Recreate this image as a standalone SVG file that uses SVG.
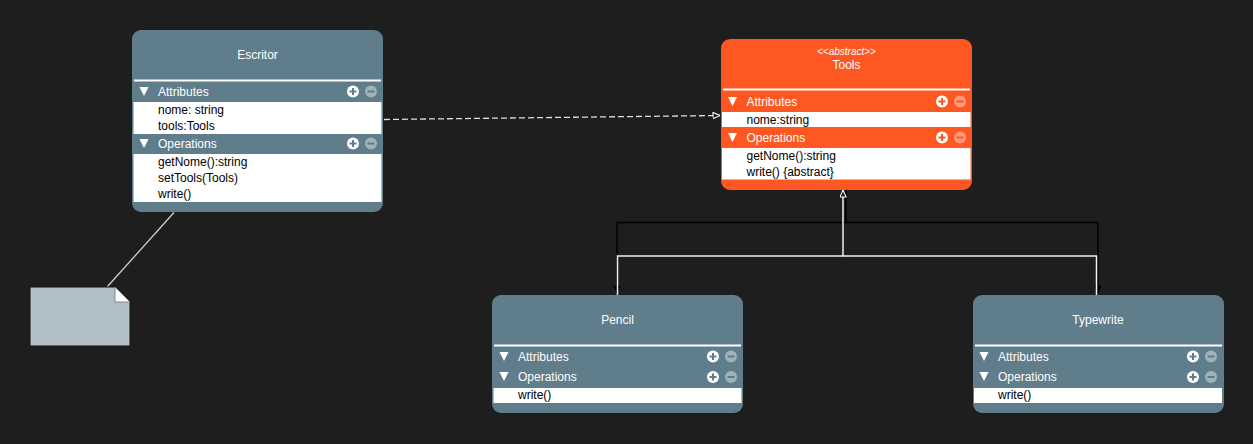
<svg xmlns="http://www.w3.org/2000/svg" width="1253" height="444" viewBox="0 0 1253 444">
<defs>
<style>
text{font-family:"Liberation Sans",Arial,sans-serif;font-size:12px}
.box{fill:#607d8b}
.abs{fill:#ff5722}
.ttl{fill:#ffffff;text-anchor:middle}
.hdr{fill:#ffffff}
.itm{fill:#000000}
.row{fill:#ffffff}
.sep{stroke:#ffffff;stroke-width:2}
.tri{fill:#ffffff}
.plus{fill:#ffffff}
.minus{fill:#ffffff;fill-opacity:0.4}
.pb{stroke-width:2;fill:none}
.wl{stroke:#f0f0f0;stroke-width:1.5;fill:none}
.bl{stroke:#000000;stroke-width:1.5;fill:none}
</style>
<marker id="hollow" viewBox="0 0 10 10" refX="10" refY="5" markerWidth="8" markerHeight="7" markerUnits="userSpaceOnUse" orient="auto">
<path d="M0,0.5 L10,5 L0,9.5 Z" fill="#1e1e1e" stroke="#ffffff" stroke-width="1.5"/>
</marker>
<marker id="blk" viewBox="0 0 10 10" refX="10" refY="5" markerWidth="7" markerHeight="7" markerUnits="userSpaceOnUse" orient="auto">
<path d="M0,0 L10,5 L0,10 Z" fill="#000000"/>
</marker>
<g id="icons-b">
<circle cx="0" cy="0" r="6" class="plus"/>
<path d="M-3.5,0 H3.5 M0,-3.5 V3.5" stroke="#607d8b" class="pb"/>
<circle cx="18" cy="0" r="6" class="minus"/>
<path d="M14.5,0 H21.5" stroke="#607d8b" class="pb"/>
</g>
<g id="icons-o">
<circle cx="0" cy="0" r="6" class="plus"/>
<path d="M-3.5,0 H3.5 M0,-3.5 V3.5" stroke="#ff5722" class="pb"/>
<circle cx="18" cy="0" r="6" class="minus"/>
<path d="M14.5,0 H21.5" stroke="#ff5722" class="pb"/>
</g>
</defs>
<rect x="0" y="0" width="1253" height="444" fill="#1e1e1e"/>

<g id="connectors">
<path d="M384,119.5 L720,115.5" stroke="#e0e0e0" stroke-width="1.3" stroke-dasharray="6 3" fill="none" marker-end="url(#hollow)"/>
<path d="M107.5,286.5 L174,212.5" stroke="#d0d0d0" stroke-width="1.3" fill="none"/>
<path d="M846,190 V222.5 H617 V293" class="bl" marker-end="url(#blk)"/>
<path d="M846,222.5 H1098 V293" class="bl" marker-end="url(#blk)"/>
<path d="M617.5,295 V256 H843 V190" class="wl" marker-end="url(#hollow)"/>
<path d="M1096.5,295 V256 H843" class="wl"/>
</g>

<g id="escritor">
<rect x="132" y="30" width="251" height="182" rx="9" class="box"/>
<text x="257.5" y="59" class="ttl">Escritor</text>
<line x1="134" y1="80.5" x2="381" y2="80.5" class="sep"/>
<polygon points="139.5,87 148.5,87 144,96" class="tri"/>
<text x="158" y="96" class="hdr">Attributes</text>
<use href="#icons-b" x="353" y="91.5"/>
<rect x="133.5" y="102" width="248" height="32" class="row"/>
<text x="158" y="114" class="itm">nome: string</text>
<text x="158" y="130" class="itm">tools:Tools</text>
<polygon points="139.5,139 148.5,139 144,148" class="tri"/>
<text x="158" y="148" class="hdr">Operations</text>
<use href="#icons-b" x="353" y="143.5"/>
<rect x="133.5" y="154" width="248" height="48" class="row"/>
<text x="158" y="166" class="itm">getNome():string</text>
<text x="158" y="182" class="itm">setTools(Tools)</text>
<text x="158" y="198" class="itm">write()</text>
</g>

<g id="tools">
<rect x="721" y="39" width="251" height="151" rx="9" class="abs"/>
<text x="846.5" y="54.5" class="ttl" style="font-size:10px;font-style:italic">&lt;&lt;abstract&gt;&gt;</text>
<text x="846.5" y="69" class="ttl">Tools</text>
<line x1="723" y1="89.5" x2="970" y2="89.5" class="sep"/>
<polygon points="728,97 737,97 732.5,106" class="tri"/>
<text x="746.5" y="106" class="hdr">Attributes</text>
<use href="#icons-o" x="942" y="101.5"/>
<rect x="722" y="112" width="248.5" height="15" class="row"/>
<text x="746.5" y="123.5" class="itm">nome:string</text>
<polygon points="728,133 737,133 732.5,142" class="tri"/>
<text x="746.5" y="142" class="hdr">Operations</text>
<use href="#icons-o" x="942" y="137.5"/>
<rect x="722" y="148" width="248.5" height="31.5" class="row"/>
<text x="746.5" y="160" class="itm">getNome():string</text>
<text x="746.5" y="176" class="itm">write() {abstract}</text>
</g>

<g id="pencil">
<rect x="492" y="295" width="251" height="118" rx="9" class="box"/>
<text x="617.5" y="324" class="ttl">Pencil</text>
<line x1="494" y1="345.5" x2="741" y2="345.5" class="sep"/>
<polygon points="499.5,352 508.5,352 504,361" class="tri"/>
<text x="518" y="361" class="hdr">Attributes</text>
<use href="#icons-b" x="713" y="356.5"/>
<polygon points="499.5,372 508.5,372 504,381" class="tri"/>
<text x="518" y="381" class="hdr">Operations</text>
<use href="#icons-b" x="713" y="377"/>
<rect x="493.5" y="388" width="248" height="15" class="row"/>
<text x="518" y="399" class="itm">write()</text>
</g>

<g id="typewrite">
<rect x="973" y="295" width="251" height="118" rx="9" class="box"/>
<text x="1098" y="324" class="ttl">Typewrite</text>
<line x1="975" y1="345.5" x2="1222" y2="345.5" class="sep"/>
<polygon points="979.5,352 988.5,352 984,361" class="tri"/>
<text x="998" y="361" class="hdr">Attributes</text>
<use href="#icons-b" x="1193" y="356.5"/>
<polygon points="979.5,372 988.5,372 984,381" class="tri"/>
<text x="998" y="381" class="hdr">Operations</text>
<use href="#icons-b" x="1193" y="377"/>
<rect x="974" y="388" width="248" height="15" class="row"/>
<text x="998" y="399" class="itm">write()</text>
</g>

<g id="note">
<path d="M30,287 H115 L130,302 V346 H30 Z" fill="#b0bec5" stroke="#151515" stroke-width="1"/>
<path d="M115,287 V302 H130 Z" fill="#ffffff" stroke="#888888" stroke-width="1"/>
</g>
</svg>
